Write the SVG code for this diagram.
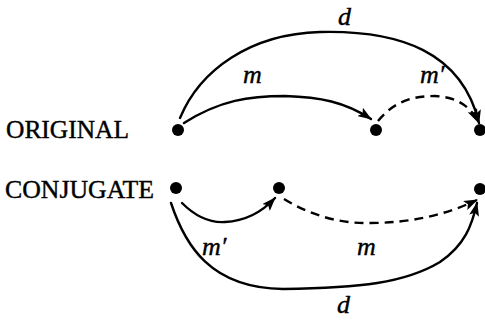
<svg xmlns="http://www.w3.org/2000/svg" width="485" height="322" viewBox="0 0 485 322">
<defs>
<marker id="ah" viewBox="0 0 14 10" refX="13" refY="5" markerWidth="14" markerHeight="10" markerUnits="userSpaceOnUse" orient="auto">
<path d="M0,0 L14,5 L0,10 L3,5 Z" fill="#000"/>
</marker>
<style>
.dot{fill:#000}
.c{fill:none;stroke:#000;stroke-width:2.4;stroke-linecap:round}
.dash{stroke-dasharray:9 6;stroke-linecap:butt}
.lbl{font-family:"Liberation Serif",serif;font-style:italic;font-size:26px;fill:#000;stroke:#000;stroke-width:0.4}
.title{font-family:"Liberation Serif",serif;font-size:25px;fill:#000;stroke:#000;stroke-width:0.4}
</style>
</defs>
<rect width="485" height="322" fill="#fff"/>
<g id="labels">
<text class="title" x="6" y="138" textLength="123" lengthAdjust="spacingAndGlyphs">ORIGINAL</text>
<text class="title" x="5" y="198" textLength="149" lengthAdjust="spacingAndGlyphs">CONJUGATE</text>
</g>
<g id="connectors">
<path class="c" marker-end="url(#ah)" d="M180,118 C200,70 250,34 320,32 C400,30 462,52 479,123"/>
<path class="c" marker-end="url(#ah)" d="M184,123 C220,100 250,96 285,96 C320,97 345,102 371,119"/>
<path class="c dash" marker-end="url(#ah)" d="M378,121 C395,100 415,96 435,96 C455,97 470,105 478,122"/>
<path class="c" marker-end="url(#ah)" d="M182,203 C195,216 210,223 225,222 C245,221 262,212 275,198"/>
<path class="c dash" marker-end="url(#ah)" d="M284,199 C310,215 340,224 370,223 C410,223 445,215 477,200"/>
<path class="c" marker-end="url(#ah)" d="M171,203 C185,245 210,288 283,289 C360,288 405,283 440,262 C465,245 472,225 477,203"/>
</g>
<g id="node-o1"><circle class="dot" cx="178" cy="130" r="6"/></g>
<g id="node-o2"><circle class="dot" cx="376" cy="130" r="6"/></g>
<g id="node-o3"><circle class="dot" cx="480" cy="130" r="6"/></g>
<g id="node-c1"><circle class="dot" cx="176" cy="188" r="6"/></g>
<g id="node-c2"><circle class="dot" cx="279" cy="188" r="6"/></g>
<g id="node-c3"><circle class="dot" cx="480" cy="189" r="6"/></g>
<g id="edge-labels">
<text class="lbl" x="338" y="25">d</text>
<text class="lbl" x="243" y="83">m</text>
<text class="lbl" x="420" y="83">m′</text>
<text class="lbl" x="202" y="255">m′</text>
<text class="lbl" x="357" y="255">m</text>
<text class="lbl" x="337" y="313">d</text>
</g>
</svg>
